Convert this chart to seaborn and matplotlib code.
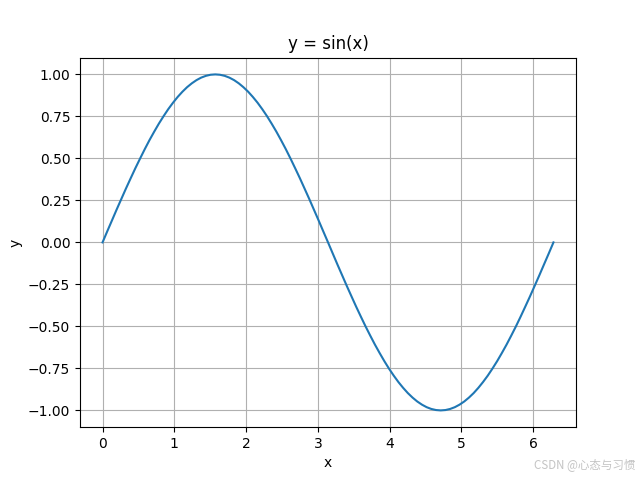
import matplotlib
matplotlib.use("Agg")
import matplotlib.pyplot as plt
import seaborn as sns
import pandas as pd

x_vals = [0, 0.065, 0.131, 0.196, 0.262, 0.327, 0.393, 0.458, 0.524, 0.589, 0.654, 0.720,
          0.785, 0.851, 0.916, 0.982, 1.047, 1.113, 1.178, 1.244, 1.309, 1.374, 1.440, 1.505,
          1.571, 1.636, 1.702, 1.767, 1.833, 1.898, 1.963, 2.029, 2.094, 2.160, 2.225, 2.291,
          2.356, 2.422, 2.487, 2.553, 2.618, 2.683, 2.749, 2.814, 2.880, 2.945, 3.011, 3.076,
          3.142, 3.207, 3.272, 3.338, 3.403, 3.469, 3.534, 3.600, 3.665, 3.731, 3.796, 3.862,
          3.927, 3.992, 4.058, 4.123, 4.189, 4.254, 4.320, 4.385, 4.451, 4.516, 4.581, 4.647,
          4.712, 4.778, 4.843, 4.909, 4.974, 5.040, 5.105, 5.171, 5.236, 5.301, 5.367, 5.432,
          5.498, 5.563, 5.629, 5.694, 5.760, 5.825, 5.890, 5.956, 6.021, 6.087, 6.152, 6.218, 6.283]
y_vals = [0, 0.0654, 0.1305, 0.1951, 0.2588, 0.3214, 0.3827, 0.4423, 0.5, 0.5556, 0.6088, 0.6593,
          0.7071, 0.7518, 0.7934, 0.8315, 0.8660, 0.8969, 0.9239, 0.9469, 0.9659, 0.9808, 0.9914, 0.9979,
          1.0, 0.9979, 0.9914, 0.9808, 0.9659, 0.9469, 0.9239, 0.8969, 0.8660, 0.8315, 0.7934, 0.7518,
          0.7071, 0.6593, 0.6088, 0.5556, 0.5, 0.4423, 0.3827, 0.3214, 0.2588, 0.1951, 0.1305, 0.0654,
          0, -0.0654, -0.1305, -0.1951, -0.2588, -0.3214, -0.3827, -0.4423, -0.5, -0.5556, -0.6088, -0.6593,
          -0.7071, -0.7518, -0.7934, -0.8315, -0.8660, -0.8969, -0.9239, -0.9469, -0.9659, -0.9808, -0.9914, -0.9979,
          -1.0, -0.9979, -0.9914, -0.9808, -0.9659, -0.9469, -0.9239, -0.8969, -0.8660, -0.8315, -0.7934, -0.7518,
          -0.7071, -0.6593, -0.6088, -0.5556, -0.5, -0.4423, -0.3827, -0.3214, -0.2588, -0.1951, -0.1305, -0.0654, 0]

df = pd.DataFrame({"x": x_vals, "y": y_vals})

fig, ax = plt.subplots(figsize=(6.4, 4.8), dpi=100)
sns.lineplot(data=df, x="x", y="y", ax=ax, color="#1f77b4", linewidth=1.5)
ax.set_title("y = sin(x)")
ax.set_xlabel("x")
ax.set_ylabel("y")
ax.grid(True)
fig.text(0.992, 0.018, "CSDN @心态与习惯", ha="right", va="bottom", fontsize=8.3,
         color="#c4c4c4", family=["Noto Sans CJK SC", "DejaVu Sans"])
fig.savefig("out.png", dpi=100)
